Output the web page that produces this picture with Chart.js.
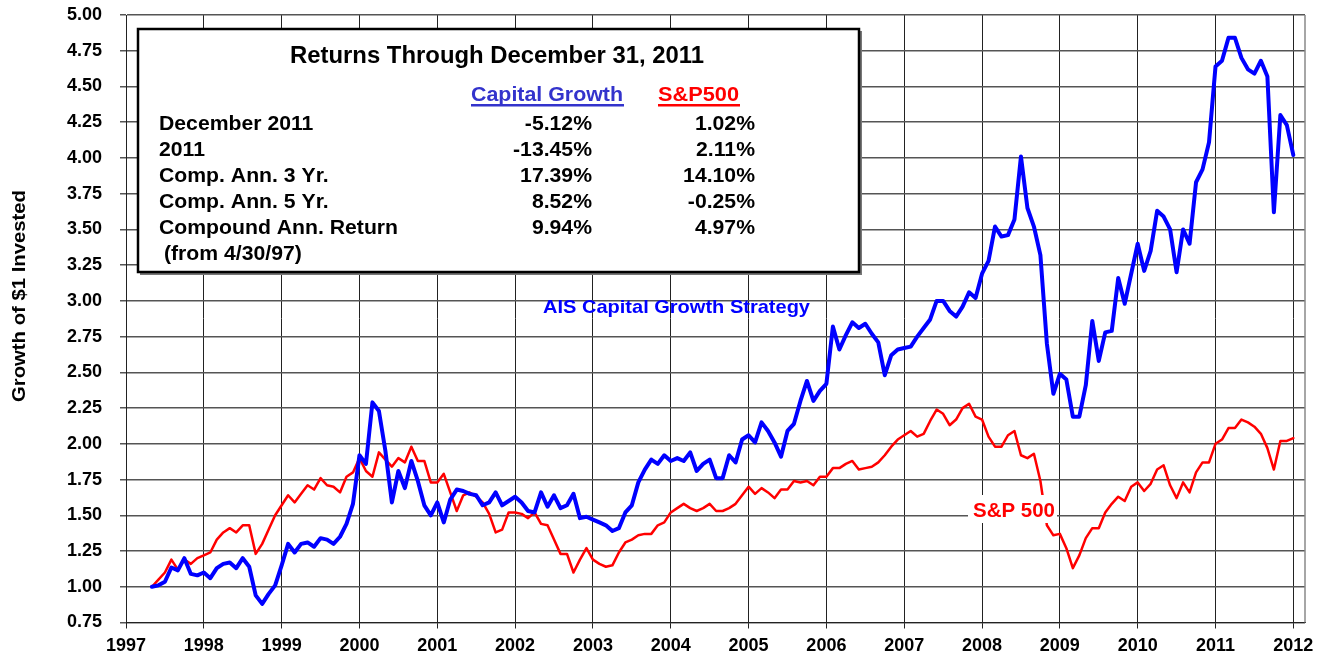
<!DOCTYPE html>
<html>
<head>
<meta charset="utf-8">
<script src="https://cdn.jsdelivr.net/npm/chart.js@4.4.1/dist/chart.umd.min.js"></script>
<style>
  html, body { margin: 0; padding: 0; background: #fff; }
</style>
</head>
<body>
<canvas id="growthChart" width="1325" height="661"></canvas>
<script>
// month-end values, first point is 4/30/97
const startYear = 1997;
const startMonth = 4;

const capitalGrowth = [
  /* 1997 */ 1.00, 1.01, 1.035, 1.135, 1.115, 1.20, 1.09, 1.08, 1.10,
  /* 1998 */ 1.06, 1.13, 1.16, 1.17, 1.13, 1.20, 1.14, 0.94, 0.88, 0.95, 1.01, 1.15,
  /* 1999 */ 1.30, 1.24, 1.30, 1.31, 1.28, 1.34, 1.33, 1.30, 1.35, 1.44, 1.58, 1.92,
  /* 2000 */ 1.86, 2.29, 2.23, 1.95, 1.59, 1.81, 1.69, 1.88, 1.74, 1.57, 1.50, 1.59,
  /* 2001 */ 1.45, 1.61, 1.68, 1.67, 1.65, 1.64, 1.57, 1.59, 1.66, 1.57, 1.60, 1.63,
  /* 2002 */ 1.59, 1.53, 1.52, 1.66, 1.56, 1.64, 1.55, 1.57, 1.65, 1.48, 1.49, 1.47,
  /* 2003 */ 1.45, 1.43, 1.39, 1.41, 1.52, 1.57, 1.73, 1.82, 1.89, 1.86, 1.92, 1.88,
  /* 2004 */ 1.90, 1.88, 1.94, 1.81, 1.86, 1.89, 1.76, 1.76, 1.92, 1.87, 2.03, 2.06,
  /* 2005 */ 2.01, 2.15, 2.09, 2.01, 1.91, 2.09, 2.14, 2.30, 2.44, 2.30, 2.37, 2.42,
  /* 2006 */ 2.82, 2.66, 2.76, 2.85, 2.81, 2.84, 2.77, 2.71, 2.48, 2.62, 2.66, 2.67,
  /* 2007 */ 2.68, 2.75, 2.81, 2.87, 3.00, 3.00, 2.93, 2.89, 2.96, 3.06, 3.02, 3.19,
  /* 2008 */ 3.28, 3.52, 3.45, 3.46, 3.57, 4.01, 3.65, 3.52, 3.32, 2.70, 2.35, 2.49,
  /* 2009 */ 2.45, 2.19, 2.19, 2.41, 2.86, 2.58, 2.78, 2.79, 3.16, 2.98, 3.19, 3.40,
  /* 2010 */ 3.21, 3.35, 3.63, 3.59, 3.50, 3.20, 3.50, 3.40, 3.83, 3.92, 4.11, 4.64,
  /* 2011 */ 4.68, 4.84, 4.84, 4.70, 4.62, 4.59, 4.68, 4.57, 3.62, 4.30, 4.23, 4.02
];

const sp500 = [
  /* 1997 */ 1.00, 1.05, 1.10, 1.19, 1.12, 1.19, 1.16, 1.20, 1.22,
  /* 1998 */ 1.24, 1.33, 1.38, 1.41, 1.38, 1.43, 1.43, 1.23, 1.30, 1.40, 1.50, 1.57,
  /* 1999 */ 1.64, 1.59, 1.65, 1.71, 1.68, 1.76, 1.71, 1.70, 1.66, 1.77, 1.80, 1.90,
  /* 2000 */ 1.81, 1.77, 1.94, 1.89, 1.84, 1.90, 1.87, 1.98, 1.88, 1.88, 1.73, 1.73,
  /* 2001 */ 1.79, 1.66, 1.53, 1.64, 1.66, 1.63, 1.59, 1.51, 1.38, 1.40, 1.52, 1.52,
  /* 2002 */ 1.51, 1.48, 1.52, 1.44, 1.43, 1.33, 1.23, 1.23, 1.10, 1.19, 1.27, 1.19,
  /* 2003 */ 1.16, 1.14, 1.15, 1.24, 1.31, 1.33, 1.36, 1.37, 1.37, 1.43, 1.45, 1.52,
  /* 2004 */ 1.55, 1.58, 1.55, 1.53, 1.55, 1.58, 1.53, 1.53, 1.55, 1.58, 1.64, 1.70,
  /* 2005 */ 1.65, 1.69, 1.66, 1.62, 1.68, 1.68, 1.74, 1.73, 1.74, 1.71, 1.77, 1.77,
  /* 2006 */ 1.83, 1.83, 1.86, 1.88, 1.82, 1.83, 1.84, 1.87, 1.92, 1.98, 2.03, 2.06,
  /* 2007 */ 2.09, 2.05, 2.07, 2.16, 2.24, 2.21, 2.13, 2.17, 2.25, 2.28, 2.19, 2.17,
  /* 2008 */ 2.05, 1.98, 1.98, 2.06, 2.09, 1.92, 1.90, 1.93, 1.74, 1.43, 1.36, 1.37,
  /* 2009 */ 1.27, 1.13, 1.22, 1.34, 1.41, 1.41, 1.52, 1.58, 1.63, 1.60, 1.70, 1.73,
  /* 2010 */ 1.67, 1.72, 1.82, 1.85, 1.71, 1.62, 1.73, 1.66, 1.80, 1.87, 1.87, 2.00,
  /* 2011 */ 2.03, 2.11, 2.11, 2.17, 2.15, 2.12, 2.07, 1.97, 1.82, 2.02, 2.02, 2.04
];

// returns table in the inset box
const tableTitle = 'Returns Through December 31, 2011';
const tableCols = ['Capital Growth', 'S&P500'];
const tableRows = ['December 2011', '2011', 'Comp. Ann. 3 Yr.', 'Comp. Ann. 5 Yr.', 'Compound Ann. Return'];
const cgReturns = ['-5.12%', '-13.45%', '17.39%', '8.52%', '9.94%'];
const spReturns = ['1.02%', '2.11%', '14.10%', '-0.25%', '4.97%'];

const FONT = '"Liberation Sans", Arial, sans-serif';

function toPoints(values) {
  return values.map((v, i) => ({ x: startYear + (startMonth + i) / 12, y: v }));
}

// bold text, optionally stretched to a given width (k = horizontal scale)
function drawText(ctx, text, x, y, size, color, align, width, k) {
  ctx.save();
  ctx.font = 'bold ' + size + 'px ' + FONT;
  let sx = k || 1;
  if (width) sx = width / ctx.measureText(text).width;
  ctx.translate(x, y);
  ctx.scale(sx, 1);
  ctx.textAlign = align || 'left';
  ctx.textBaseline = 'alphabetic';
  ctx.fillStyle = color;
  ctx.fillText(text, 0, 0);
  ctx.restore();
}

const overlayPlugin = {
  id: 'overlay',
  afterDatasetsDraw(chart) {
    const ctx = chart.ctx;
    const area = chart.chartArea;

    // right edge of the plot
    ctx.save();
    ctx.strokeStyle = '#888';
    ctx.lineWidth = 1.5;
    ctx.beginPath();
    ctx.moveTo(area.right, area.top);
    ctx.lineTo(area.right, area.bottom);
    ctx.stroke();
    ctx.restore();

    // inset box with shadow
    ctx.save();
    ctx.fillStyle = '#777';
    ctx.fillRect(140, 31, 722, 244);
    ctx.fillStyle = '#fff';
    ctx.fillRect(138, 29, 721, 243);
    ctx.strokeStyle = '#000';
    ctx.lineWidth = 2.5;
    ctx.strokeRect(138, 29, 721, 243);
    ctx.restore();

    drawText(ctx, tableTitle, 497, 63, 23, '#000', 'center', 414);

    drawText(ctx, tableCols[0], 471, 101, 21, '#3333cc', 'left', 152);
    drawText(ctx, tableCols[1], 658, 101, 21, '#ff0000', 'left', 81);
    ctx.save();
    ctx.fillStyle = '#3333cc';
    ctx.fillRect(471, 104, 153, 2.5);
    ctx.fillStyle = '#ff0000';
    ctx.fillRect(658, 104, 82, 2.5);
    ctx.restore();

    tableRows.forEach((label, i) => {
      const y = 130 + i * 26;
      drawText(ctx, label, 159, y, 20, '#000', 'left', null, 1.06);
      drawText(ctx, cgReturns[i], 592, y, 20, '#000', 'right', null, 1.06);
      drawText(ctx, spReturns[i], 755, y, 20, '#000', 'right', null, 1.06);
    });
    drawText(ctx, '(from 4/30/97)', 164, 260, 20, '#000', 'left', null, 1.06);

    // series labels
    drawText(ctx, 'AIS Capital Growth Strategy', 543, 313, 19, '#0000ff', 'left', 267);
    ctx.save();
    ctx.fillStyle = '#fff';
    ctx.fillRect(968, 495, 89, 28);
    ctx.restore();
    drawText(ctx, 'S&P 500', 973, 517, 20, '#ff0000', 'left', 82);

    // y axis title
    ctx.save();
    ctx.translate(25, 296);
    ctx.rotate(-Math.PI / 2);
    drawText(ctx, 'Growth of $1 Invested', 0, 0, 19, '#000', 'center', 212);
    ctx.restore();
  }
};

Chart.defaults.font.family = FONT;
Chart.defaults.font.weight = 'bold';
Chart.defaults.color = '#000';

const growthCanvas = document.getElementById('growthChart');
window._growthChart = new Chart(growthCanvas.getContext('2d'), {
  type: 'line',
  data: {
    datasets: [
      {
        label: 'AIS Capital Growth Strategy',
        data: toPoints(capitalGrowth),
        borderColor: '#0000ff',
        borderWidth: 4,
        pointRadius: 0,
        tension: 0,
        borderJoinStyle: 'round',
        borderCapStyle: 'round'
      },
      {
        label: 'S&P 500',
        data: toPoints(sp500),
        borderColor: '#ff0000',
        borderWidth: 2.5,
        pointRadius: 0,
        tension: 0,
        borderJoinStyle: 'round',
        borderCapStyle: 'round'
      }
    ]
  },
  options: {
    responsive: false,
    animation: false,
    devicePixelRatio: 1,
    layout: { padding: { left: 0, right: 20, top: 15, bottom: 0 } },
    plugins: { legend: { display: false }, tooltip: { enabled: false } },
    scales: {
      x: {
        type: 'linear',
        min: 1997,
        max: 2012.15,
        afterFit: s => { s.height = 38.5; s.paddingLeft = 0; s.paddingRight = 0; },
        ticks: {
          stepSize: 1,
          includeBounds: false,
          padding: 7,
          maxRotation: 0,
          autoSkip: false,
          font: { size: 18, weight: 'bold' },
          callback: v => String(v)
        },
        grid: { color: '#222', lineWidth: 1, tickLength: 6 },
        border: { color: '#222', width: 1 }
      },
      y: {
        min: 0.75,
        max: 5,
        afterFit: s => { s.width = 126; s.paddingTop = 0; s.paddingBottom = 0; },
        ticks: {
          stepSize: 0.25,
          padding: 18,
          font: { size: 18, weight: 'bold' },
          callback: v => v.toFixed(2)
        },
        grid: { color: '#555', lineWidth: 1.5, tickLength: 6 },
        border: { color: '#222', width: 1 }
      }
    }
  },
  plugins: [overlayPlugin]
});
</script>
</body>
</html>
